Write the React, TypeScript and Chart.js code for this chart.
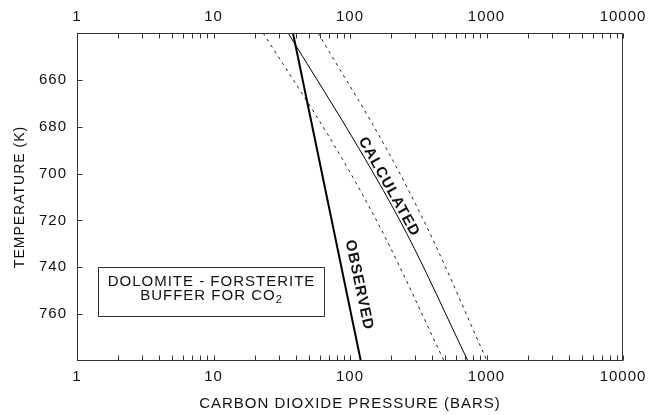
import React, { useEffect, useRef } from "react";
import { Chart, registerables } from "chart.js";

Chart.register(...registerables);

// ---- data ----
const xMajorTicks = [1, 10, 100, 1000, 10000];
const xMinorSteps = [2, 3, 4, 5, 6, 7, 8, 9];
const yTicks = [660, 680, 700, 720, 740, 760];
const yMin = 640;
const yMax = 780;

const observedT = [640, 780];
const observedP = [38.2, 120];

const calculatedT = [640, 689.9, 725.5, 780];
const calculatedP = [35.2, 118, 260, 731];

const lowerBoundT = [640, 689.9, 725.5, 780];
const lowerBoundP = [23.1, 80.3, 175, 489];

const upperBoundT = [640, 689.9, 725.5, 780];
const upperBoundP = [58.3, 187, 385, 1009];

const xTitle = "CARBON DIOXIDE PRESSURE (BARS)";
const yTitle = "TEMPERATURE (K)";

const boxLine1 = "DOLOMITE - FORSTERITE";
const boxLine2 = "BUFFER FOR CO";
const boxSub = "2";
const boxP = [1.43, 64.5];
const boxT = [739.7, 760.7];

const calcLabel = "CALCULATED";
const calcLabelAt = [193, 705.7];
const obsLabel = "OBSERVED";
const obsLabelAt = [116.4, 747.6];

const FONT = '"Liberation Sans", Arial, Helvetica, sans-serif';
const INK = "#111";

function pts(ps: number[], ts: number[]) {
  return ps.map((p, i) => ({ x: p, y: ts[i] }));
}

function allXTicks() {
  const vals: number[] = [];
  xMajorTicks.forEach((m, i) => {
    vals.push(m);
    if (i < xMajorTicks.length - 1) xMinorSteps.forEach((s) => vals.push(m * s));
  });
  return vals.map((v) => ({ value: v }));
}

const decoPlugin = {
  id: "deco",
  beforeUpdate(chart: any) {
    chart.ctx.letterSpacing = "1px";
  },
  beforeDraw(chart: any) {
    chart.ctx.letterSpacing = "1px";
  },
  afterDraw(chart: any) {
    const { ctx, chartArea: a, scales } = chart;
    const xs = scales.x;
    const ys = scales.y;
    ctx.save();
    ctx.letterSpacing = "1px";
    ctx.strokeStyle = "#333";
    ctx.lineWidth = 1;
    const L = Math.round(a.left) + 0.5;
    const R = Math.round(a.right) - 0.5;
    const T = Math.round(a.top) + 0.5;
    const B = Math.round(a.bottom) - 0.5;
    ctx.strokeRect(L, T, R - L, B - T);
    // inward ticks
    ctx.beginPath();
    xs.ticks.forEach((t: any) => {
      const px = Math.round(xs.getPixelForValue(t.value)) + 0.5;
      ctx.moveTo(px, B);
      ctx.lineTo(px, B - 5);
      ctx.moveTo(px, T);
      ctx.lineTo(px, T + 5);
    });
    ys.ticks.forEach((t: any) => {
      const py = Math.round(ys.getPixelForValue(t.value)) + 0.5;
      ctx.moveTo(L, py);
      ctx.lineTo(L + 5, py);
    });
    ctx.stroke();

    // annotation box
    const bx1 = Math.round(xs.getPixelForValue(boxP[0])) + 0.5;
    const bx2 = Math.round(xs.getPixelForValue(boxP[1])) + 0.5;
    const by1 = Math.round(ys.getPixelForValue(boxT[0])) + 0.5;
    const by2 = Math.round(ys.getPixelForValue(boxT[1])) + 0.5;
    ctx.strokeRect(bx1, by1, bx2 - bx1, by2 - by1);
    const cx = (bx1 + bx2) / 2;
    ctx.fillStyle = INK;
    ctx.font = "15px " + FONT;
    ctx.textAlign = "center";
    ctx.textBaseline = "middle";
    ctx.fillText(boxLine1, cx, by1 + 14);
    const w1 = ctx.measureText(boxLine2).width;
    ctx.font = "11px " + FONT;
    const w2 = ctx.measureText(boxSub).width;
    const sx = cx - (w1 + w2) / 2;
    ctx.textAlign = "left";
    ctx.font = "15px " + FONT;
    ctx.fillText(boxLine2, sx, by1 + 28);
    ctx.font = "11px " + FONT;
    ctx.fillText(boxSub, sx + w1, by1 + 32);

    // rotated curve labels
    ctx.font = "bold 15px " + FONT;
    ctx.textAlign = "center";
    const drawRot = (txt: string, at: number[], deg: number) => {
      const px = xs.getPixelForValue(at[0]);
      const py = ys.getPixelForValue(at[1]);
      ctx.save();
      ctx.translate(px, py);
      ctx.rotate((deg * Math.PI) / 180);
      ctx.fillText(txt, 0, 0);
      ctx.restore();
    };
    drawRot(calcLabel, calcLabelAt, 61);
    drawRot(obsLabel, obsLabelAt, 78);
    ctx.restore();
  },
};

export default function App() {
  const ref = useRef<HTMLCanvasElement>(null);
  useEffect(() => {
    document.body.style.margin = "0";
    Chart.defaults.font.family = FONT;
    Chart.defaults.color = INK;
    const xLabel = (v: any) => (xMajorTicks.includes(Number(v)) ? String(v) : "");
    const zeroPad = (s: any) => {
      s.paddingLeft = 0;
      s.paddingRight = 0;
      s.paddingTop = 0;
      s.paddingBottom = 0;
    };
    const chart = new Chart(ref.current as HTMLCanvasElement, {
      type: "line",
      data: {
        datasets: [
          {
            data: pts(observedP, observedT),
            borderColor: "#000",
            borderWidth: 2,
            pointRadius: 0,
          },
          {
            data: pts(calculatedP, calculatedT),
            borderColor: "#000",
            borderWidth: 1,
            pointRadius: 0,
            cubicInterpolationMode: "monotone",
          },
          {
            data: pts(lowerBoundP, lowerBoundT),
            borderColor: "#222",
            borderWidth: 1,
            borderDash: [3, 4],
            pointRadius: 0,
            cubicInterpolationMode: "monotone",
          },
          {
            data: pts(upperBoundP, upperBoundT),
            borderColor: "#222",
            borderWidth: 1,
            borderDash: [3, 4],
            pointRadius: 0,
            cubicInterpolationMode: "monotone",
          },
        ],
      } as any,
      options: {
        animation: false,
        responsive: false,
        events: [],
        layout: { autoPadding: false, padding: { left: 0, top: 0, bottom: 0, right: 29 } } as any,
        plugins: { legend: { display: false }, tooltip: { enabled: false } },
        scales: {
          x: {
            type: "logarithmic",
            position: "bottom",
            min: 1,
            max: 10000,
            grid: { display: false, drawTicks: false },
            border: { display: false },
            afterBuildTicks: (s: any) => {
              s.ticks = allXTicks();
            },
            afterFit: (s: any) => {
              s.height = 54;
              zeroPad(s);
            },
            ticks: {
              autoSkip: false,
              maxRotation: 0,
              padding: 7,
              font: { size: 15 },
              color: INK,
              callback: xLabel,
            },
            title: {
              display: true,
              text: xTitle,
              font: { size: 15 },
              color: INK,
              padding: { top: 0, bottom: 2 },
            },
          },
          xTop: {
            type: "logarithmic",
            axis: "x",
            position: "top",
            min: 1,
            max: 10000,
            grid: { display: false, drawTicks: false },
            border: { display: false },
            afterBuildTicks: (s: any) => {
              s.ticks = allXTicks();
            },
            afterFit: (s: any) => {
              s.height = 33;
              zeroPad(s);
            },
            ticks: {
              autoSkip: false,
              maxRotation: 0,
              padding: 7,
              font: { size: 15 },
              color: INK,
              callback: xLabel,
            },
          },
          y: {
            type: "linear",
            position: "left",
            min: yMin,
            max: yMax,
            reverse: true,
            grid: { display: false, drawTicks: false },
            border: { display: false },
            afterBuildTicks: (s: any) => {
              s.ticks = yTicks.map((v) => ({ value: v }));
            },
            afterFit: (s: any) => {
              s.width = 77;
              zeroPad(s);
            },
            ticks: {
              autoSkip: false,
              padding: 10,
              font: { size: 15 },
              color: INK,
            },
            title: {
              display: true,
              text: yTitle,
              font: { size: 14 },
              color: INK,
              padding: { top: 12, bottom: 0 },
            },
          },
        },
      } as any,
      plugins: [decoPlugin],
    });
    return () => chart.destroy();
  }, []);
  return (
    <div style={{ width: 652, height: 415 }}>
      <canvas ref={ref} width={652} height={415} style={{ display: "block" }} />
    </div>
  );
}
